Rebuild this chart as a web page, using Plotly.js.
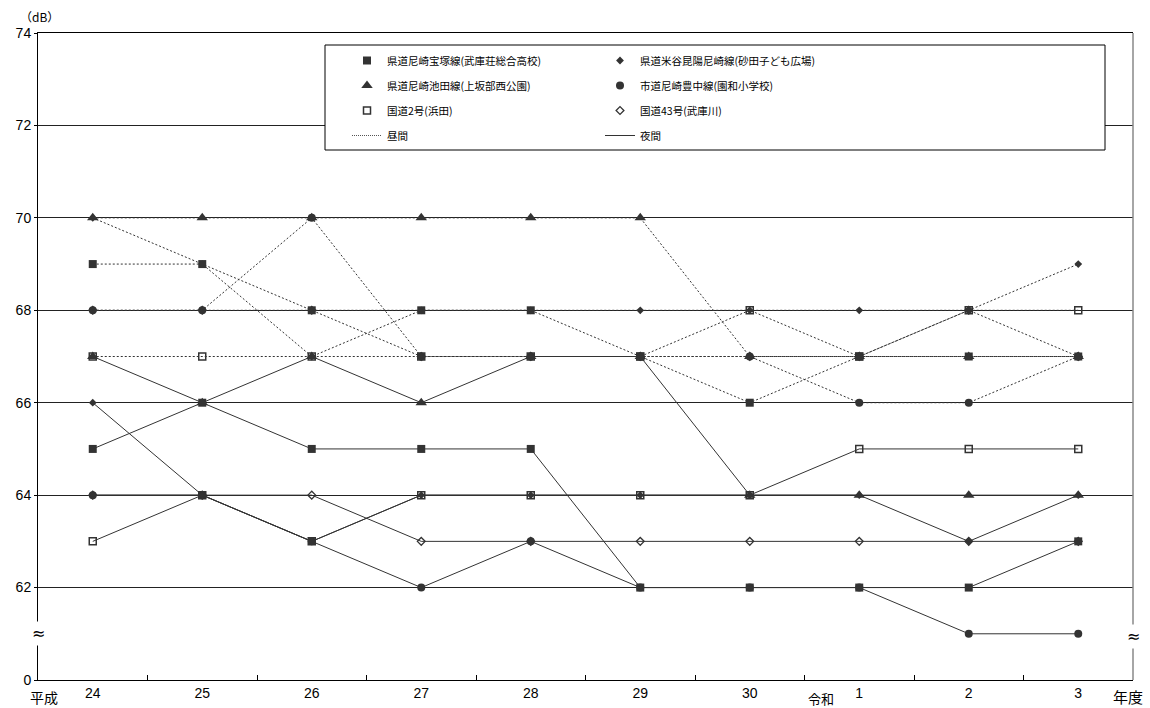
<!DOCTYPE html>
<html><head><meta charset="utf-8">
<script src="https://cdn.plot.ly/plotly-3.0.1.min.js"></script>
<style>html,body{margin:0;padding:0;background:#fff}#chart{width:1150px;height:708px}</style>
</head><body><div id="chart"></div>
<script>
// ---- data ----
const years = ['24','25','26','27','28','29','30','1','2','3'];
const yTickVals = [60,62,64,66,68,70,72,74];
const yTickText = ['0','62','64','66','68','70','72','74'];
const seriesNames = [
  '県道尼崎宝塚線(武庫荘総合高校)',
  '県道米谷昆陽尼崎線(砂田子ども広場)',
  '県道尼崎池田線(上坂部西公園)',
  '市道尼崎豊中線(園和小学校)',
  '国道2号(浜田)',
  '国道43号(武庫川)'
];
const periodNames = ['昼間','夜間'];
// daytime (dotted)
const dayA = [69,69,68,68,68,67,66,67,67,67];
const dayB = [70,69,67,68,68,68,68,68,68,69];
const dayC = [70,70,70,70,70,70,67,67,67,67];
const dayD = [68,68,70,67,67,67,67,66,66,67];
const dayE = [67,67,67,67,67,67,68,67,68,68];
const dayF = [68,68,68,67,67,67,67,67,68,67];
// nighttime (solid)
const nightA = [65,66,65,65,65,62,62,62,62,63];
const nightB = [66,64,63,64,64,64,64,64,63,64];
const nightC = [67,66,67,66,67,67,64,64,64,64];
const nightD = [64,64,63,62,63,62,62,62,61,61];
const nightE = [63,64,63,64,64,64,64,65,65,65];
const nightF = [64,64,64,63,63,63,63,63,63,63];

const dayValues = [dayA, dayB, dayC, dayD, dayE, dayF];
const nightValues = [nightA, nightB, nightC, nightD, nightE, nightF];

// ---- styles ----
const CJK = '"Noto Sans CJK JP", "Noto Sans", sans-serif';
const NUM = '"Liberation Sans", Arial, sans-serif';
const INK = '#333333';
const markerStyles = [
  {symbol:'square', size:8, line:0},
  {symbol:'diamond', size:6, line:0},
  {symbol:'triangle-up', size:10, line:0},
  {symbol:'circle', size:8, line:0},
  {symbol:'square-open', size:7, line:1.5},
  {symbol:'diamond-open', size:6, line:1.3}
];
const DOT = '2px,2px';
const drawOrder = [3,4,5,1,0,2];

const traces = [];
drawOrder.forEach(i => {
  const m = markerStyles[i];
  [[dayValues[i], DOT], [nightValues[i], 'solid']].forEach(([vals, dash]) => {
    traces.push({
      type:'scatter', mode:'lines+markers', x: years, y: vals,
      showlegend:false, hoverinfo:'skip',
      line:{color:INK, width:1, dash:dash},
      marker:{symbol:m.symbol, size:m.size, color:INK, line:{color:INK, width:m.line}}
    });
  });
});
// legend entries (left column: A, C, E, 昼間 ; right column: B, D, F, 夜間)
const leftCol = [0,2,4], rightCol = [1,3,5];
function legendMarker(i, leg){
  const m = markerStyles[i];
  return {type:'scatter', mode:'markers', x:[null], y:[null], name: seriesNames[i],
    legend: leg, legendgroup:'g'+i, showlegend:true, hoverinfo:'skip',
    marker:{symbol:m.symbol, size:m.size, color:INK, line:{color:INK, width:m.line}}};
}
leftCol.forEach(i => traces.push(legendMarker(i,'legend')));
traces.push({type:'scatter', mode:'lines', x:[null], y:[null], name: periodNames[0], legend:'legend',
  legendgroup:'gd', line:{color:'#555', width:1, dash:'1px,1px'}, hoverinfo:'skip'});
rightCol.forEach(i => traces.push(legendMarker(i,'legend2')));
traces.push({type:'scatter', mode:'lines', x:[null], y:[null], name: periodNames[1], legend:'legend2',
  legendgroup:'gn', line:{color:INK, width:1}, hoverinfo:'skip'});

const W = 1150, H = 708, L = 38, R = 17, T = 33, B = 28;
const pw = W - L - R, ph = H - T - B;
const px = x => (x - L) / pw;
const py = y => 1 - (y - T) / ph;

const legendCommon = {bgcolor:'rgba(0,0,0,0)', borderwidth:0, font:{family:CJK, size:10.5, color:'#000'},
  tracegroupgap:6, xanchor:'left', yanchor:'top', itemclick:false, itemdoubleclick:false};

const layout = {
  width: W, height: H,
  margin:{l:L, r:R, t:T, b:B, pad:0},
  paper_bgcolor:'#fff', plot_bgcolor:'#fff',
  showlegend:true,
  legend: Object.assign({}, legendCommon, {x: px(347), y: py(46)}),
  legend2: Object.assign({}, legendCommon, {x: px(600), y: py(46)}),
  xaxis:{type:'category', range:[-0.5, 9.5], tickson:'boundaries', ticks:'inside', ticklen:5,
    tickcolor:'#000', showgrid:false, showline:true, mirror:true, linecolor:'#000', linewidth:1,
    zeroline:false, tickfont:{family:NUM, size:14, color:'#000'}, fixedrange:true},
  yaxis:{range:[60,74], tickmode:'array', tickvals:yTickVals, ticktext:yTickText,
    showgrid:true, gridcolor:'#222', gridwidth:1, showline:true, linecolor:'#000', linewidth:1,
    ticks:'outside', ticklen:3, tickcolor:'#000', zeroline:false,
    tickfont:{family:NUM, size:14, color:'#000'}, fixedrange:true},
  shapes:[
    {type:'line', xref:'paper', yref:'paper', x0:1, x1:1, y0:0, y1:1, line:{color:'#888', width:1.5}, layer:'above'},
    {type:'rect', xref:'paper', yref:'paper', x0:px(325), x1:px(1105), y0:py(150), y1:py(45),
      line:{color:'#000', width:1}, fillcolor:'#fff', layer:'above'}
  ],
  annotations:[
    {xref:'paper', yref:'y', x:0, y:61, text:'≈', showarrow:false, xanchor:'center', yanchor:'middle',
      bgcolor:'#fff', font:{family:'DejaVu Sans', size:16, color:'#000'}, borderpad:2},
    {xref:'paper', yref:'y', x:1, y:60.95, text:'≈', showarrow:false, xanchor:'center', yanchor:'middle',
      bgcolor:'#fff', font:{family:'DejaVu Sans', size:16, color:'#000'}, borderpad:2},
    {xref:'paper', yref:'paper', x:px(44), y:py(697), text:'平成', showarrow:false, xanchor:'center', yanchor:'middle',
      font:{family:CJK, size:14, color:'#000'}},
    {xref:'paper', yref:'paper', x:px(821), y:py(698), text:'令和', showarrow:false, xanchor:'center', yanchor:'middle',
      font:{family:CJK, size:13, color:'#000'}},
    {xref:'paper', yref:'paper', x:px(1128), y:py(696), text:'年度', showarrow:false, xanchor:'center', yanchor:'middle',
      font:{family:CJK, size:15, color:'#000'}},
    {xref:'paper', yref:'paper', x:px(39), y:py(16), text:'（dB）', showarrow:false, xanchor:'center', yanchor:'middle',
      font:{family:CJK, size:12, color:'#000'}}
  ]
};

Plotly.newPlot('chart', traces, layout, {staticPlot:true, displayModeBar:false});
</script>
</body></html>
